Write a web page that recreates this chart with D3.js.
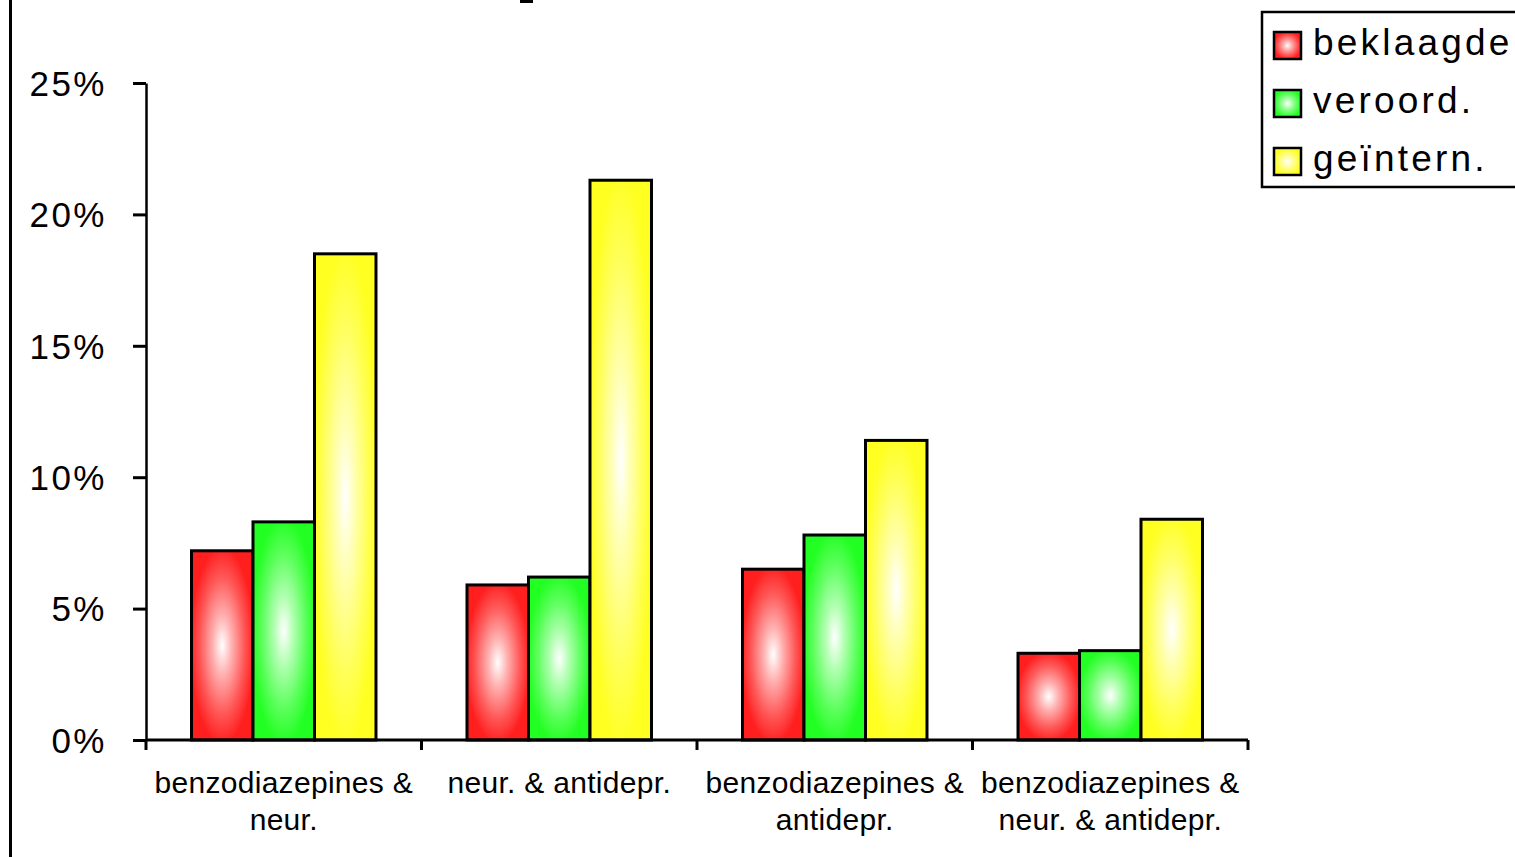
<!DOCTYPE html>
<html>
<head>
<meta charset="utf-8">
<script src="https://cdn.jsdelivr.net/npm/d3@7"></script>
<style>
  html, body { margin: 0; padding: 0; background: #fff; }
  svg { display: block; }
  text { font-family: "Liberation Sans", Arial, sans-serif; fill: #000; }
</style>
</head>
<body>
<svg id="chart" width="1515" height="857"></svg>
<script>
// ---- data ----
const categories = [
  "benzodiazepines &\nneur.",
  "neur. & antidepr.",
  "benzodiazepines &\nantidepr.",
  "benzodiazepines &\nneur. & antidepr."
];
const seriesNames = ["beklaagde", "veroord.", "geïntern."];
const beklaagde = [0.072, 0.059, 0.065, 0.033];
const veroord   = [0.083, 0.062, 0.078, 0.034];
const geintern  = [0.185, 0.213, 0.114, 0.084];
const seriesValues = [beklaagde, veroord, geintern];
const yTicks = [0, 0.05, 0.10, 0.15, 0.20, 0.25];
const seriesColors = ["#ff1f1f", "#22ff22", "#ffff22"];

// ---- layout ----
const svg = d3.select("#chart");
const plotLeft = 146, plotRight = 1248, plotTop = 83, plotBottom = 740;

const x0 = d3.scaleBand().domain(categories).range([plotLeft, plotRight]).padding(0);
const x1 = d3.scaleBand().domain(seriesNames).range([0, x0.bandwidth()])
  .paddingInner(0).paddingOuter(0.74);
const y = d3.scaleLinear().domain([0, 0.25]).range([plotBottom, plotTop]);

// gradients (white centre fading to the series colour at the edges)
const defs = svg.append("defs");
seriesColors.forEach((c, i) => {
  const g = defs.append("radialGradient").attr("id", "grad" + i)
    .attr("cx", "50%").attr("cy", "50%").attr("r", "52%");
  g.append("stop").attr("offset", "0%").attr("stop-color", "#ffffff");
  g.append("stop").attr("offset", "30%").attr("stop-color", d3.interpolateRgb("#ffffff", c)(0.35));
  g.append("stop").attr("offset", "70%").attr("stop-color", d3.interpolateRgb("#ffffff", c)(0.75));
  g.append("stop").attr("offset", "100%").attr("stop-color", c);
});

// left frame line
svg.append("rect").attr("x", 9).attr("y", 0).attr("width", 3).attr("height", 857).attr("fill", "#000");
// remnant of cut-off title
svg.append("rect").attr("x", 520).attr("y", 0).attr("width", 13).attr("height", 3).attr("fill", "#000");

// bars
const data = [];
categories.forEach((cat, ci) => {
  seriesNames.forEach((s, si) => {
    data.push({ cat, s, si, v: seriesValues[si][ci] });
  });
});
svg.append("g").selectAll("rect").data(data).join("rect")
  .attr("x", d => x0(d.cat) + x1(d.s))
  .attr("y", d => y(d.v))
  .attr("width", x1.bandwidth())
  .attr("height", d => y(0) - y(d.v))
  .attr("fill", d => `url(#grad${d.si})`)
  .attr("stroke", "#000")
  .attr("stroke-width", 3);

// y axis
const yAxis = svg.append("g").attr("transform", `translate(${plotLeft},0)`)
  .call(d3.axisLeft(y).tickValues(yTicks).tickSize(13).tickSizeOuter(0)
    .tickPadding(26).tickFormat(d3.format(".0%")));
yAxis.select(".domain").attr("stroke-width", 2.5);
yAxis.selectAll(".tick line").attr("stroke-width", 3);
yAxis.selectAll(".tick text")
  .style("font-family", '"Liberation Sans", Arial, sans-serif')
  .attr("font-size", 35).attr("letter-spacing", 2.5).attr("dy", "0.35em");

// x axis
const xAxis = svg.append("g").attr("transform", `translate(0,${plotBottom})`);
xAxis.append("line").attr("x1", plotLeft).attr("x2", plotRight).attr("y1", 0).attr("y2", 0)
  .attr("stroke", "#000").attr("stroke-width", 3);
const bounds = categories.map(c => x0(c)).concat([plotRight]);
xAxis.selectAll("line.tk").data(bounds).join("line").attr("class", "tk")
  .attr("x1", d => d).attr("x2", d => d).attr("y1", 0).attr("y2", 10)
  .attr("stroke", "#000").attr("stroke-width", 3);
const labels = xAxis.selectAll("text.cat").data(categories).join("text").attr("class", "cat")
  .attr("text-anchor", "middle").attr("font-size", 30).attr("letter-spacing", 0.3)
  .attr("transform", d => `translate(${x0(d) + x0.bandwidth() / 2},0)`);
labels.each(function(d) {
  const t = d3.select(this);
  d.split("\n").forEach((line, i) => {
    t.append("tspan").attr("x", 0).attr("y", 53 + i * 37).text(line);
  });
});

// legend
const legend = svg.append("g");
legend.append("rect").attr("x", 1262).attr("y", 12).attr("width", 300).attr("height", 175)
  .attr("fill", "#fff").attr("stroke", "#000").attr("stroke-width", 2.5);
const ly = d3.scalePoint().domain(seriesNames).range([45, 161]);
const items = legend.selectAll("g.item").data(seriesNames).join("g").attr("class", "item")
  .attr("transform", d => `translate(1274,${ly(d)})`);
items.append("rect").attr("x", 0).attr("y", -13).attr("width", 27).attr("height", 27)
  .attr("fill", (d, i) => `url(#grad${i})`).attr("stroke", "#000").attr("stroke-width", 2.5);
items.append("text").attr("x", 39).attr("y", 9.5).attr("font-size", 37)
  .attr("letter-spacing", 3.2).text(d => d);
</script>
</body>
</html>
